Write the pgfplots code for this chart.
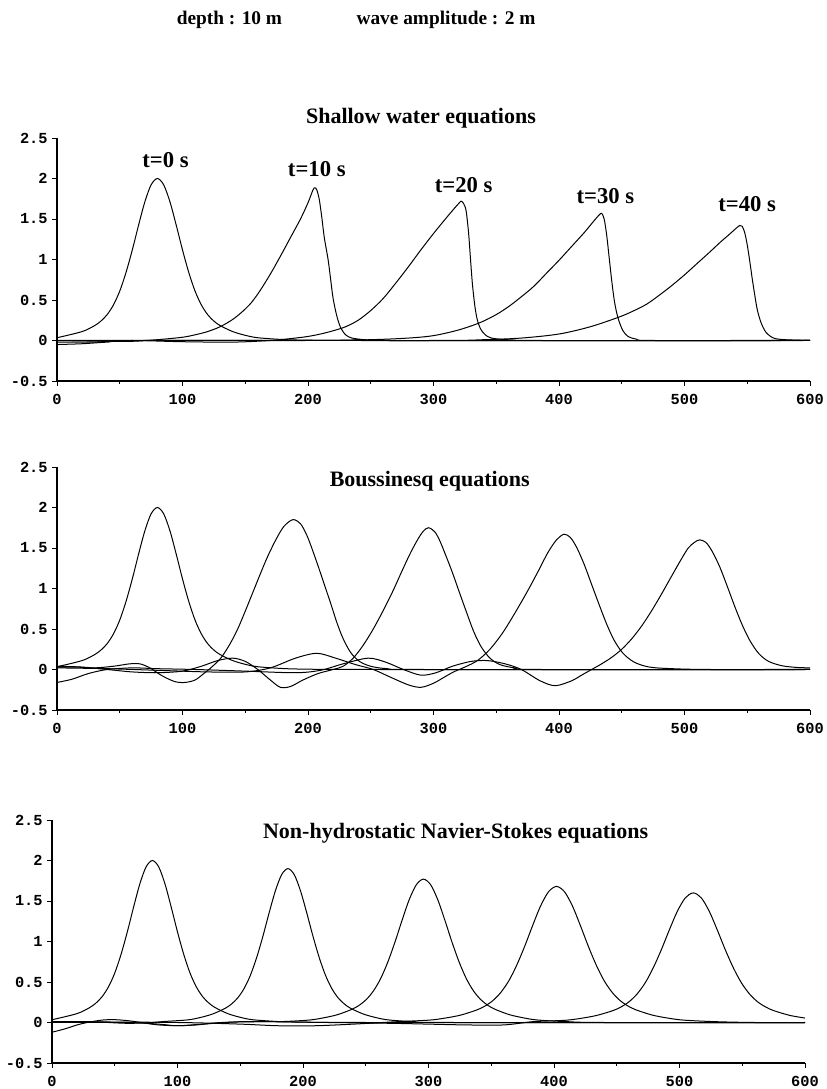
\documentclass[border=0pt]{standalone}
\usepackage{fontspec}
\setmainfont{Liberation Serif}
\newfontfamily\monofam{Liberation Mono}
\usepackage{pgfplots}
\pgfplotsset{compat=1.18}

\newcommand\tickfont{\monofam\bfseries\fontsize{11.5}{13}\selectfont}
\newcommand\titlefont{\bfseries\fontsize{16.5}{19}\selectfont}
\newcommand\timefont{\bfseries\fontsize{17}{19}\selectfont}
\newcommand\headfont{\bfseries\fontsize{14.5}{17}\selectfont}

\pgfplotsset{
  panel/.style={
    scale only axis, width=564.75pt, height=182.25pt,
    xmin=0, xmax=600, ymin=-0.5, ymax=2.5,
    axis x line=bottom, axis y line=left,
    axis line style={-, line width=0.8pt},
    tick align=outside,
    xtick={0,100,200,300,400,500,600},
    xticklabels={0,100,200,300,400,500,600},
    minor xtick={50,150,250,350,450,550},
    ytick={-0.5,0,0.5,1,1.5,2,2.5},
    yticklabels={-0.5,0,0.5,1,1.5,2,2.5},
    major tick length=3.5pt, minor tick length=2pt,
    tick style={black, line width=0.7pt},
    ticklabel style={font=\tickfont},
    xticklabel style={yshift=-3pt},
    clip=false,
    cycle list={{black}},
    every axis plot post/.append style={black, line width=0.75pt, smooth, tension=0.5, mark=none},
  },
}

% initial solitary wave (same in the three panels)
\pgfplotstableread{
x y
0 0.034
20 0.11
30 0.184
35 0.24
40 0.32
45 0.44
50 0.61
55 0.84
60 1.118
65 1.424
70 1.712
75 1.922
80 2
85 1.922
90 1.712
95 1.424
100 1.118
105 0.84
110 0.61
115 0.44
120 0.32
125 0.24
130 0.184
140 0.11
150 0.064
160 0.034
180 0.012
200 0.004
250 0
600 0
}\initwave

\begin{document}
\begin{tikzpicture}
\useasboundingbox (0,0) rectangle (619.5pt,816.75pt);

% ---------------- shallow water ----------------
\begin{axis}[panel, at={(42.75pt,531pt)}, anchor=south west]
\addplot table {\initwave};
\addplot coordinates {(0,0) (40,-0.01) (60,-0.01) (80,0.01) (100,0.04) (110,0.07) (120,0.11) (130,0.17) (140,0.26) (148,0.36) (155,0.47) (162,0.62) (170,0.82) (178,1.04) (186,1.27) (194,1.5) (200,1.7) (204,1.86) (205.5,1.885) (207,1.86) (209,1.74) (211,1.52) (213,1.27) (216,1.0) (218,0.76) (220,0.52) (223,0.3) (226,0.16) (230,0.07) (235,0.03) (245,0.01) (260,0) (600,0)};
\addplot coordinates {(0,0) (60,0) (100,-0.015) (140,-0.02) (170,0) (190,0.03) (200,0.05) (210,0.08) (220,0.12) (230,0.17) (240,0.25) (250,0.37) (260,0.52) (270,0.71) (280,0.91) (290,1.12) (300,1.32) (310,1.51) (316,1.62) (320,1.69) (322,1.72) (324,1.69) (326,1.6) (328,1.32) (329.5,1.0) (331,0.7) (333,0.42) (335,0.25) (338,0.13) (343,0.05) (350,0.02) (365,0.005) (380,0) (600,0)};
\addplot coordinates {(0,-0.02) (30,-0.02) (60,0) (200,0) (250,0.01) (280,0.03) (300,0.06) (320,0.13) (337,0.22) (350,0.32) (360,0.42) (370,0.54) (380,0.67) (390,0.83) (400,0.99) (410,1.16) (420,1.33) (428,1.48) (432,1.55) (434,1.57) (436,1.5) (438,1.3) (440,1.02) (442,0.74) (444,0.5) (446,0.34) (448,0.23) (451,0.12) (455,0.05) (462,0.015) (475,0) (600,0)};
\addplot coordinates {(0,-0.05) (20,-0.04) (40,-0.02) (70,0) (300,0) (340,0.01) (370,0.03) (400,0.08) (425,0.17) (448,0.29) (460,0.37) (470,0.45) (480,0.56) (490,0.68) (500,0.81) (510,0.95) (520,1.09) (529,1.22) (535,1.3) (540,1.37) (544,1.42) (546,1.41) (548,1.33) (550,1.18) (552,0.98) (554,0.76) (556,0.56) (558,0.38) (561,0.22) (565,0.1) (571,0.03) (580,0.01) (600,0)};
\node[anchor=base, font=\titlefont] at (axis cs:290,2.68) {Shallow water equations};
\node[anchor=base, font=\timefont] at (axis cs:86.5,2.13) {t=0 s};
\node[anchor=base, font=\timefont] at (axis cs:207,2.02) {t=10 s};
\node[anchor=base, font=\timefont] at (axis cs:324,1.83) {t=20 s};
\node[anchor=base, font=\timefont] at (axis cs:437,1.695) {t=30 s};
\node[anchor=base, font=\timefont] at (axis cs:550,1.59) {t=40 s};
\end{axis}

% ---------------- Boussinesq ----------------
\begin{axis}[panel, at={(42.75pt,284.25pt)}, anchor=south west]
\addplot table {\initwave};
\addplot coordinates {(0,0.03) (15,0.03) (30,0.02) (45,0.04) (58,0.07) (66,0.07) (74,0.02) (84,-0.08) (94,-0.15) (102,-0.16) (110,-0.13) (117,-0.05) (124,0.04) (131,0.15) (138,0.32) (144,0.5) (150,0.72) (156,0.95) (162,1.18) (168,1.4) (175,1.62) (181,1.77) (188,1.85) (194,1.8) (199,1.66) (203,1.5) (208,1.28) (213,1.05) (218,0.82) (223,0.58) (228,0.38) (234,0.21) (241,0.1) (250,0.04) (263,0.01) (290,0) (600,0)};
\addplot coordinates {(0,0.04) (20,0.03) (40,0) (60,-0.03) (80,-0.04) (100,-0.02) (115,0.04) (128,0.11) (140,0.14) (150,0.1) (160,0) (170,-0.13) (178,-0.22) (186,-0.21) (196,-0.13) (208,-0.05) (220,0) (228,0.04) (236,0.14) (244,0.3) (252,0.5) (260,0.73) (268,0.98) (275,1.22) (282,1.45) (288,1.62) (292,1.71) (296,1.75) (301,1.7) (305,1.59) (310,1.4) (315,1.2) (320,0.98) (326,0.72) (332,0.47) (338,0.28) (345,0.14) (353,0.06) (365,0.02) (385,0) (600,0)};
\addplot coordinates {(0,0.02) (40,0.01) (80,-0.01) (120,-0.03) (150,-0.03) (170,0.02) (190,0.14) (207,0.2) (222,0.14) (238,0.06) (252,0) (265,-0.09) (280,-0.19) (290,-0.22) (300,-0.17) (308,-0.1) (316,-0.03) (325,0.03) (335,0.11) (345,0.25) (355,0.45) (365,0.7) (375,0.97) (384,1.23) (391,1.44) (398,1.6) (404,1.67) (409,1.63) (414,1.51) (420,1.3) (426,1.05) (432,0.8) (438,0.56) (444,0.36) (451,0.2) (460,0.09) (472,0.03) (490,0.01) (520,0) (600,0)};
\addplot coordinates {(0,-0.16) (12,-0.12) (25,-0.05) (40,0) (60,0.02) (80,0.01) (110,0) (150,-0.02) (190,-0.04) (210,-0.01) (228,0.07) (248,0.14) (262,0.09) (276,0) (290,-0.07) (302,-0.04) (315,0.04) (330,0.1) (343,0.11) (357,0.07) (370,0) (385,-0.14) (397,-0.2) (410,-0.14) (418,-0.07) (426,0) (434,0.07) (442,0.15) (450,0.25) (458,0.38) (466,0.54) (474,0.73) (482,0.94) (490,1.16) (497,1.35) (503,1.5) (508,1.57) (512,1.6) (517,1.57) (522,1.46) (528,1.27) (534,1.03) (540,0.78) (546,0.55) (552,0.36) (559,0.2) (567,0.1) (578,0.045) (590,0.025) (600,0.02)};
\node[anchor=base, font=\titlefont] at (axis cs:297,2.26) {Boussinesq equations};
\end{axis}

% ---------------- Navier-Stokes ----------------
\begin{axis}[panel, at={(39pt,19.5pt)}, anchor=south west]
\addplot table {\initwave};
\addplot coordinates {(0,0.01) (30,0.01) (60,-0.01) (80,0) (88,0.011) (108,0.032) (118,0.061) (128,0.105) (138,0.175) (143,0.228) (148,0.304) (153,0.418) (158,0.58) (163,0.798) (168,1.062) (173,1.353) (178,1.626) (183,1.826) (188,1.9) (193,1.826) (198,1.626) (203,1.353) (208,1.062) (213,0.798) (218,0.58) (223,0.418) (228,0.304) (233,0.228) (238,0.175) (248,0.105) (258,0.061) (268,0.032) (288,0.011) (320,0) (600,0)};
\addplot coordinates {(0,0) (60,0) (85,-0.02) (100,-0.04) (120,-0.02) (150,0.01) (182,0.011) (204.8,0.030) (216.2,0.057) (227.6,0.097) (239,0.163) (244.7,0.212) (250.4,0.283) (256.1,0.389) (261.8,0.540) (267.5,0.743) (273.2,0.989) (278.9,1.260) (284.6,1.515) (290.3,1.701) (296,1.77) (301.7,1.701) (307.4,1.515) (313.1,1.260) (318.8,0.989) (324.5,0.743) (330.2,0.540) (335.9,0.389) (341.6,0.283) (347.3,0.212) (353,0.163) (364.4,0.097) (375.8,0.057) (387.2,0.030) (410,0.011) (440,0) (600,0)};
\addplot coordinates {(0,0.01) (100,0) (150,-0.02) (180,-0.04) (210,-0.04) (240,-0.02) (275,0.010) (300.4,0.029) (313.1,0.054) (325.8,0.092) (338.5,0.155) (344.85,0.202) (351.2,0.269) (357.55,0.370) (363.9,0.512) (370.25,0.706) (376.6,0.939) (382.95,1.196) (389.3,1.438) (395.65,1.614) (402,1.68) (408.35,1.614) (414.7,1.438) (421.05,1.196) (427.4,0.939) (433.75,0.706) (440.1,0.512) (446.45,0.370) (452.8,0.269) (459.15,0.202) (465.5,0.155) (478.2,0.092) (490.9,0.054) (503.6,0.029) (529,0.010) (560,0) (600,0)};
\addplot coordinates {(0,-0.12) (10,-0.08) (20,-0.03) (28,0) (40,0.03) (50,0.035) (62,0.02) (75,-0.01) (85,-0.03) (100,-0.04) (115,-0.03) (135,0) (170,0.01) (220,0) (270,-0.01) (300,-0.02) (330,-0.03) (360,-0.03) (383,0.010) (408.6,0.027) (421.4,0.051) (434.2,0.088) (447,0.147) (453.4,0.192) (459.8,0.256) (466.2,0.352) (472.6,0.488) (479,0.672) (485.4,0.894) (491.8,1.139) (498.2,1.370) (504.6,1.538) (511,1.6) (517.4,1.538) (523.8,1.370) (530.2,1.139) (536.6,0.894) (543,0.672) (549.4,0.488) (555.8,0.352) (562.2,0.256) (568.6,0.192) (575,0.147) (587.8,0.088) (600,0.055)};
\node[anchor=base, font=\titlefont] at (axis cs:321.6,2.27) {Non-hydrostatic Navier-Stokes equations};
\end{axis}

% header
\node[anchor=base, font=\headfont] at (172.1pt,798pt) {depth : 10 m};
\node[anchor=base, font=\headfont] at (334.5pt,798pt) {wave amplitude : 2 m};
\end{tikzpicture}
\end{document}
